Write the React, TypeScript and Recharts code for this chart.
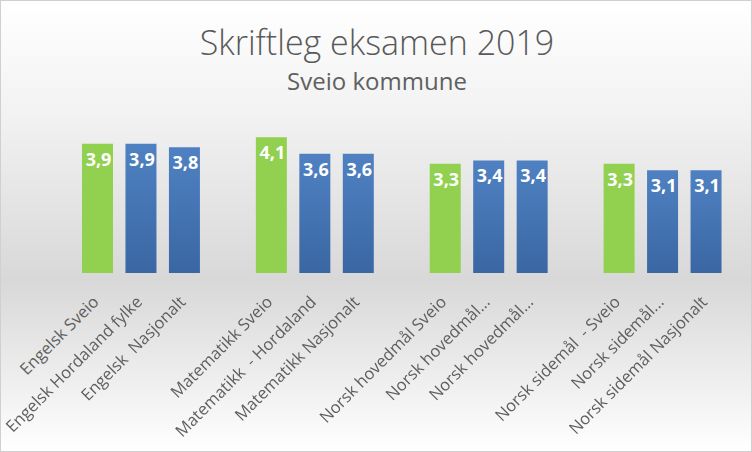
import { BarChart, Bar, XAxis, YAxis, Cell, LabelList } from 'recharts';

const categories = [
  'Engelsk Sveio',
  'Engelsk Hordaland fylke',
  'Engelsk  Nasjonalt',
  ' ',
  'Matematikk Sveio',
  'Matematikk  - Hordaland',
  'Matematikk Nasjonalt',
  '  ',
  'Norsk hovedmål Sveio',
  'Norsk hovedmål...',
  'Norsk hovedmål... ',
  '   ',
  'Norsk sidemål  - Sveio',
  'Norsk sidemål...',
  'Norsk sidemål Nasjonalt',
];

const scores = [3.9, 3.9, 3.8, null, 4.1, 3.6, 3.6, null, 3.3, 3.4, 3.4, null, 3.3, 3.1, 3.1];

const isSveio = [true, false, false, false, true, false, false, false, true, false, false, false, true, false, false];

const chartData = categories.map((name, i) => ({ name, score: scores[i] }));

const Tick = (props: any) => {
  const { x, y, payload } = props;
  const label = String(payload.value).trim();
  if (!label) return null;
  const px = x + 2;
  const py = y + 22;
  return (
    <text
      x={px}
      y={py}
      textAnchor="end"
      transform={`rotate(-45, ${px}, ${py})`}
      fill="#5f5f5f"
      fontSize={16.5}
      fontFamily="'Open Sans', sans-serif"
      style={{ whiteSpace: 'pre' }}
    >
      {label}
    </text>
  );
};

const ValueLabel = (props: any) => {
  const { x, y, width, value } = props;
  if (value == null) return null;
  return (
    <text
      x={x + width / 2 + 1}
      y={y + 22}
      textAnchor="middle"
      fill="#ffffff"
      fontSize={18}
      fontWeight="bold"
      fontFamily="'Open Sans', sans-serif"
    >
      {String(value).replace('.', ',')}
    </text>
  );
};

const App = () => {
  return (
    <div
      style={{
        position: 'fixed',
        left: 0,
        top: 0,
        width: 752,
        height: 452,
        boxSizing: 'border-box',
        border: '1px solid #d0d0d0',
        background:
          'linear-gradient(to bottom, #ffffff 0%, #f2f2f2 25%, #d8d8d8 62%, #f2f2f2 88%, #ffffff 100%)',
        fontFamily: "'Open Sans', sans-serif",
      }}
    >
      <div
        style={{
          position: 'absolute',
          left: 0,
          width: 752,
          top: 21,
          textAlign: 'center',
          fontSize: 34,
          fontWeight: 300,
          color: '#595959',
          lineHeight: '40px',
        }}
      >
        Skriftleg eksamen 2019
      </div>
      <div
        style={{
          position: 'absolute',
          left: 0,
          width: 752,
          top: 65,
          textAlign: 'center',
          fontSize: 24,
          color: '#606060',
          lineHeight: '30px',
        }}
      >
        Sveio kommune
      </div>
      <div style={{ position: 'absolute', left: -1, top: -1 }}>
        <BarChart
          width={752}
          height={452}
          data={chartData}
          margin={{ top: 124, right: 24, bottom: 9, left: 76 }}
          barSize={31}
        >
          <defs>
            <linearGradient id="blueFill" x1="0" y1="0" x2="0" y2="1">
              <stop offset="0%" stopColor="#4f81c2" />
              <stop offset="100%" stopColor="#3a67a3" />
            </linearGradient>
          </defs>
          <YAxis hide domain={[0, 4.5]} />
          <XAxis
            dataKey="name"
            height={170}
            axisLine={false}
            tickLine={false}
            interval={0}
            tick={<Tick />}
          />
          <Bar dataKey="score" isAnimationActive={false}>
            {chartData.map((d, i) => (
              <Cell key={d.name} fill={isSveio[i] ? '#92d050' : 'url(#blueFill)'} />
            ))}
            <LabelList dataKey="score" content={<ValueLabel />} />
          </Bar>
        </BarChart>
      </div>
    </div>
  );
};

export default App;
